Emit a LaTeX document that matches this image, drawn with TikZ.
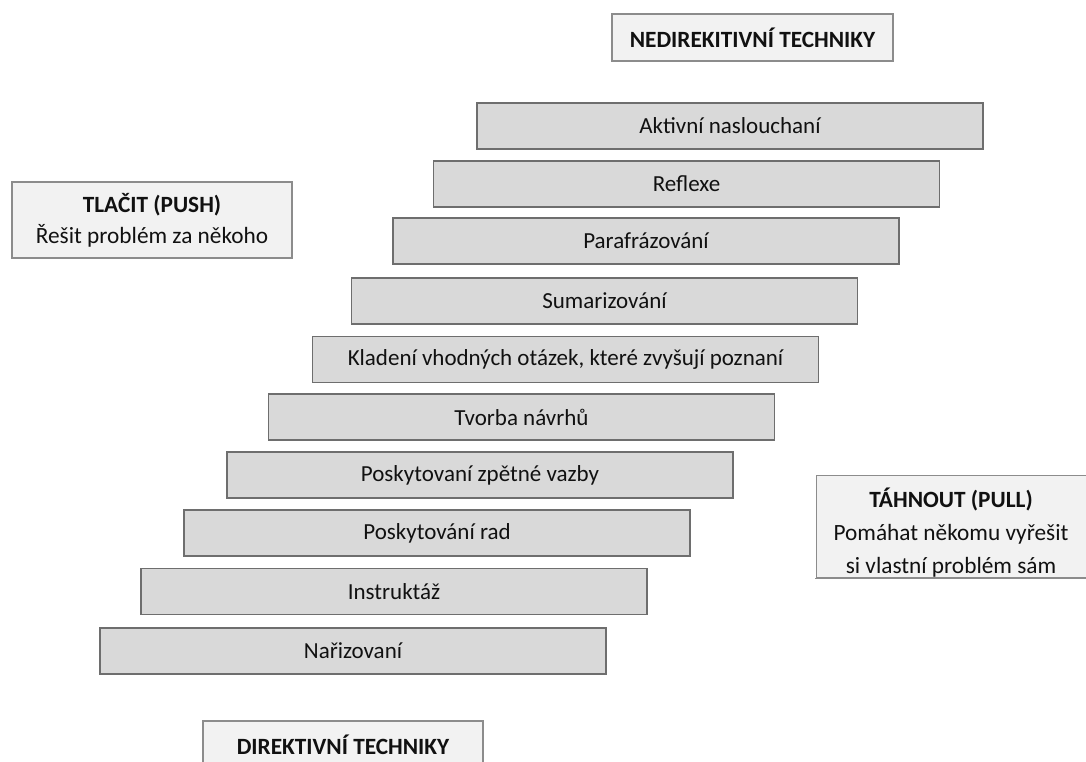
\documentclass[tikz,border=0pt]{standalone}
\usepackage{fontspec}
\setmainfont{Carlito}
\definecolor{stepfill}{HTML}{D9D9D9}
\definecolor{stepline}{HTML}{6E6E6E}
\definecolor{labfill}{HTML}{F2F2F2}
\definecolor{labline}{HTML}{8C8C8C}
\definecolor{txt}{HTML}{111111}
\begin{document}
\begin{tikzpicture}[x=1pt,y=-1pt,
  stepbox/.style={draw=stepline, line width=1.1pt, fill=stepfill, minimum width=506pt, minimum height=46pt, inner sep=0pt, text=txt, font=\fontsize{23}{28}\selectfont},
  labbox/.style={draw=labline, line width=1.1pt, fill=labfill, inner sep=0pt, text=txt, align=center, font=\fontsize{23.3}{31}\selectfont},
  labtext/.style={inner sep=0pt, text=txt, anchor=base, font=\fontsize{23.3}{31}\selectfont}]
\useasboundingbox (0,0) rectangle (1086,762);
\clip (0,0) rectangle (1086,762);
% steps
\node[stepbox] (s1) at (730,126) {Aktivní naslouchaní};
\node[stepbox] (s2) at (686.5,184) {Reflexe};
\node[stepbox] (s3) at (646,241) {Parafrázování};
\node[stepbox] (s4) at (604.5,301) {Sumarizování};
\node[stepbox] (s5) at (565.5,359.5) {Kladení vhodných otázek, které zvyšují poznaní};
\node[stepbox] (s6) at (521.5,417) {Tvorba návrhů};
\node[stepbox] (s7) at (480,475) {Poskytovaní zpětné vazby};
\node[stepbox] (s8) at (437,533) {Poskytování rad};
\node[stepbox] (s9) at (394,591.5) {Instruktáž};
\node[stepbox] (s10) at (353,651) {Nařizovaní};
% labels
\node[labbox, minimum width=281pt, minimum height=47pt] (nedir) at (752.5,37.5) {\bfseries NEDIREKITIVNÍ TECHNIKY};
\node[labbox, minimum width=280pt, minimum height=76pt] (push) at (152,220) {\bfseries TLAČIT (PUSH)\\Řešit problém za někoho};
\node[labbox, minimum width=280pt, minimum height=47pt] (dir) at (343,744.5) {\bfseries DIREKTIVNÍ TECHNIKY};
\begin{scope}
  \clip (816,475) rectangle (1090,578);
  \node[labbox, minimum width=274pt, minimum height=103pt] (pullbox) at (953,526.5) {};
  \node[labtext] (pull1) at (951,507) {\bfseries TÁHNOUT (PULL)};
  \node[labtext] (pull2) at (951,540) {Pomáhat někomu vyřešit};
  \node[labtext] (pull3) at (951,573) {si vlastní problém sám};
\end{scope}
\draw[labline, line width=1.1pt] (pullbox.south west) -- (pullbox.south east);
\end{tikzpicture}
\end{document}
